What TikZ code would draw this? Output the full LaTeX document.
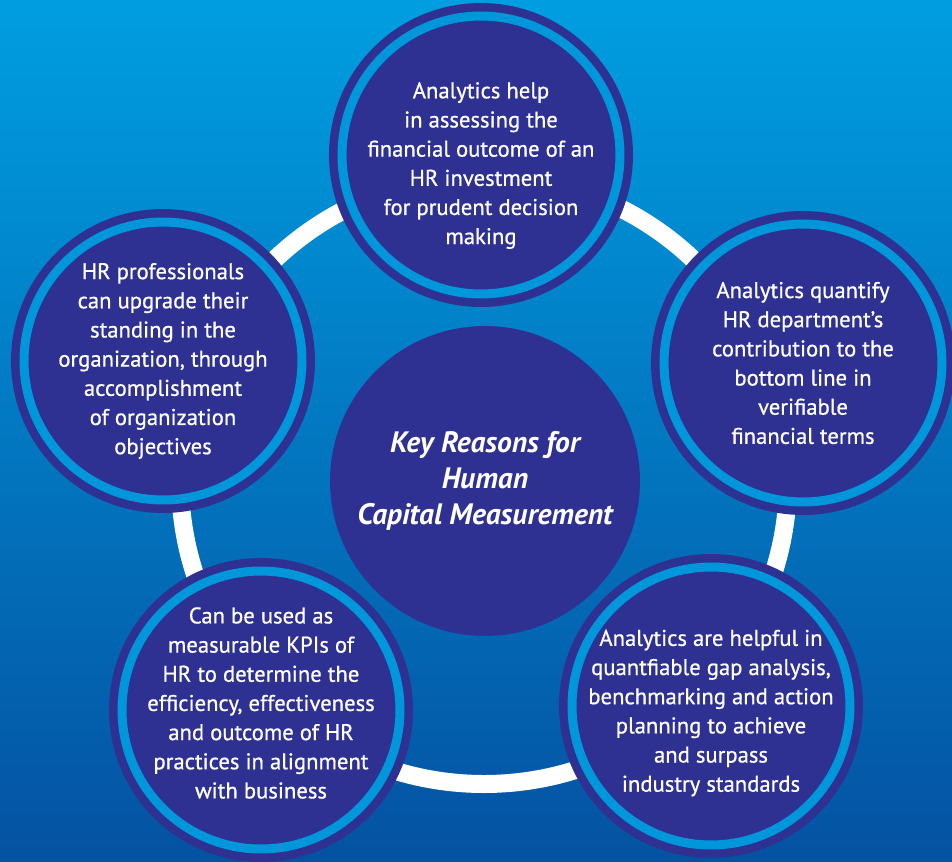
\documentclass[tikz,border=0pt]{standalone}
\usepackage{fontspec}
\setmainfont{PT Sans}
\newfontfamily\reasonfont{PT Sans}[FakeBold=0.7]
\usepackage{tikz}

\definecolor{bgtop}{RGB}{0,158,224}
\definecolor{bgbot}{RGB}{4,82,162}
\definecolor{hrdark}{RGB}{46,49,146}
\definecolor{hrlight}{RGB}{0,150,218}

\tikzset{
  reason/.style={circle,fill=hrdark,draw=hrdark,line width=0.17cm,
    double=hrlight,double distance=0.18cm,minimum size=5.56cm,inner sep=0pt},
  reasontext/.style={text=white,align=center,inner sep=0pt,
    font=\reasonfont\fontsize{12.9}{16.6}\selectfont},
  hub/.style={circle,fill=hrdark,minimum size=6.2cm,inner sep=0pt},
  hubtext/.style={text=white,align=center,inner sep=0pt,
    font=\fontsize{16.8}{20.4}\selectfont\bfseries\itshape}
}

\begin{document}
\begin{tikzpicture}
[x=0.02cm,y=-0.02cm]
\useasboundingbox (0,0) rectangle (952,861);
\clip (0,0) rectangle (952,861);
\fill[top color=bgtop,bottom color=bgbot] (0,0) rectangle (952,861);
% white ring behind the circles
\node[circle,minimum size=12.16cm,inner sep=0pt] (ring) at (484,480) {};
\draw[white,line width=0.36cm] (ring.center) circle[radius=304];
% centre
\node[hub] (hub) at (485,481) {};
\node[hubtext] (hub-txt) at (hub) {Key Reasons for\\Human\\Capital Measurement};
% outer circles
\node[reason] (r1) at (481,155) {};
\node[reason] (r2) at (803,363) {};
\node[reason] (r3) at (711,706) {};
\node[reason] (r4) at (261,710) {};
\node[reason] (r5) at (163,361) {};
\node[reasontext] (r1-txt) at ([yshift=-6]r1) {Analytics help\\in assessing the\\financial outcome of an\\HR investment\\for prudent decision\\making};
\node[reasontext] (r2-txt) at (r2) {Analytics quantify\\HR department’s\\contribution to the\\bottom line in\\verifiable\\financial terms};
\node[reasontext] (r3-txt) at ([yshift=-4]r3) {Analytics are helpful in\\quantfiable gap analysis,\\benchmarking and action\\planning to achieve\\and surpass\\industry standards};
\node[reasontext] (r4-txt) at ([yshift=4]r4) {Can be used as\\measurable KPIs of\\HR to determine the\\efficiency, effectiveness\\and outcome of HR\\practices in alignment\\with business};
\node[reasontext] (r5-txt) at (r5) {HR professionals\\can upgrade their\\standing in the\\organization, through\\accomplishment\\of organization\\objectives};
\end{tikzpicture}
\end{document}
